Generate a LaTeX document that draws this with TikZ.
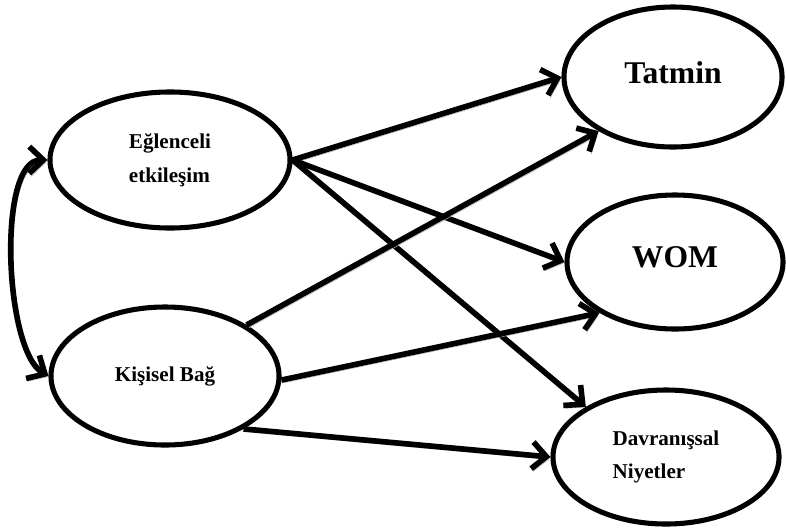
\documentclass[tikz,border=0pt]{standalone}
\usepackage{fontspec}
\setmainfont{Liberation Serif}
\usetikzlibrary{shapes.geometric,arrows.meta}

\begin{document}
\begin{tikzpicture}[x=0.025cm,y=-0.025cm,
	var/.style={draw,ellipse,line width=3.6pt,inner sep=0pt,align=left,
		font=\bfseries\fontsize{15}{24}\selectfont},
	big/.style={text depth=7pt,font=\bfseries\fontsize{22.5}{26}\selectfont},
	link/.style={line width=4pt,-{Straight Barb[length=10pt,width=19pt]},
		preaction={draw=black!30,transform canvas={xshift=1.5pt,yshift=-2pt}}}]
	\useasboundingbox (0,0) rectangle (786,527);

	\node[var,minimum width=6cm,minimum height=3.4cm] (eg) at (170,160) {Eğlenceli\\etkileşim};
	\node[var,minimum width=5.7cm,minimum height=3.45cm] (kb) at (165,376) {Kişisel Bağ};
	\node[var,big,minimum width=5.45cm,minimum height=3.5cm] (ta) at (673,77) {Tatmin};
	\node[var,big,minimum width=5.4cm,minimum height=3.35cm] (wm) at (675,262) {WOM};
	\node[var,minimum width=5.65cm,minimum height=3.35cm] (dv) at (666,457) {Davranışsal\\Niyetler};

	\draw[link] (eg.east) -- (ta.west);
	\draw[link] (eg.east) -- (wm.west);
	\draw[link] (eg.east) -- (dv.148);
	\draw[link] (kb.32) -- (ta.216);
	\draw[link] (kb.-2) -- (wm.214);
	\draw[link] (kb.-34) -- (dv.west);
	\draw[link,{Straight Barb[length=10pt,width=19pt]}-{Straight Barb[length=10pt,width=19pt]}]
		(eg.west) to[out=180,in=150,looseness=0.6] (kb.west);
\end{tikzpicture}
\end{document}
